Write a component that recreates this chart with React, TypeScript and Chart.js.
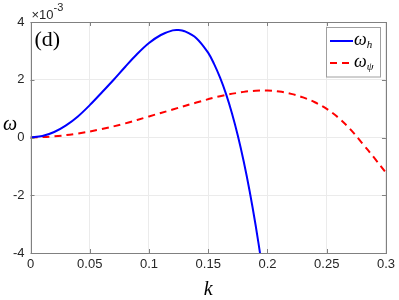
import React, { useEffect, useRef } from "react";
import { Chart, registerables } from "chart.js";

Chart.register(...registerables);

// data (omega in units of 1e-3)
const kBlue = [0, 0.01, 0.02, 0.03, 0.04, 0.05, 0.06, 0.07, 0.08, 0.09, 0.1, 0.11, 0.12, 0.125, 0.13, 0.14, 0.15, 0.155, 0.16, 0.165, 0.17, 0.175, 0.18, 0.185, 0.19, 0.195];
const wBlue = [0, 0.05, 0.19, 0.42, 0.73, 1.12, 1.55, 1.99, 2.45, 2.89, 3.27, 3.55, 3.71, 3.72, 3.68, 3.44, 2.93, 2.54, 2.07, 1.51, 0.84, 0.06, -0.84, -1.87, -3.04, -4.35];
const kRed = [0, 0.02, 0.04, 0.06, 0.08, 0.1, 0.12, 0.14, 0.16, 0.18, 0.19, 0.2, 0.21, 0.22, 0.23, 0.24, 0.25, 0.26, 0.27, 0.28, 0.29, 0.3];
const wRed = [0, 0.04, 0.14, 0.29, 0.49, 0.73, 0.97, 1.21, 1.43, 1.58, 1.62, 1.63, 1.59, 1.51, 1.39, 1.22, 0.99, 0.68, 0.28, -0.2, -0.7, -1.22];

const xTickValues = [0, 0.05, 0.1, 0.15, 0.2, 0.25, 0.3];
const xTickLabels = ["0", "0.05", "0.1", "0.15", "0.2", "0.25", "0.3"];
const yTickValues = [-4, -2, 0, 2, 4];
const yTickLabels = ["-4", "-2", "0", "2", "4"];

const TXT = "#262626";
const SANS = "'Liberation Sans', Arial, Helvetica, sans-serif";
const SERIF = "'Liberation Serif', 'Times New Roman', serif";

const overlay = {
  id: "overlay",
  afterDraw(chart: any) {
    const { ctx, chartArea: a, scales } = chart;
    const x = scales.x;
    const y = scales.y;
    ctx.save();
    // axes box
    ctx.strokeStyle = "#808080";
    ctx.lineWidth = 1;
    ctx.strokeRect(Math.round(a.left) + 0.5, Math.round(a.top) + 0.5, Math.round(a.right - a.left), Math.round(a.bottom - a.top));
    // inward ticks
    ctx.beginPath();
    xTickValues.forEach((v) => {
      const px = Math.round(x.getPixelForValue(v)) + 0.5;
      ctx.moveTo(px, a.bottom);
      ctx.lineTo(px, a.bottom - 4);
      ctx.moveTo(px, a.top);
      ctx.lineTo(px, a.top + 4);
    });
    yTickValues.forEach((v) => {
      const py = Math.round(y.getPixelForValue(v)) + 0.5;
      ctx.moveTo(a.left, py);
      ctx.lineTo(a.left + 4, py);
      ctx.moveTo(a.right, py);
      ctx.lineTo(a.right - 4, py);
    });
    ctx.stroke();

    // exponent label
    ctx.fillStyle = TXT;
    ctx.textBaseline = "alphabetic";
    ctx.textAlign = "left";
    ctx.font = `13px ${SANS}`;
    ctx.fillText("\u00d710", a.left + 1, 19);
    const w10 = ctx.measureText("\u00d710").width;
    ctx.font = `11px ${SANS}`;
    ctx.fillText("-3", a.left + 1 + w10, 11);

    // panel label
    ctx.fillStyle = "#000";
    ctx.font = `22px ${SERIF}`;
    ctx.fillText("(d)", a.left + 4, a.top + 24);

    // axis titles
    ctx.font = `italic 20px ${SERIF}`;
    ctx.textAlign = "center";
    ctx.fillText("k", (a.left + a.right) / 2, 295);
    ctx.fillText("\u03c9", 10, 130);

    // legend
    const lx = 326.5, ly = 27.5, lw = 54, lh = 49.5;
    ctx.fillStyle = "#fff";
    ctx.fillRect(lx, ly, lw, lh);
    ctx.strokeStyle = "#a0a0a0";
    ctx.strokeRect(lx, ly, lw, lh);
    ctx.lineWidth = 2;
    ctx.strokeStyle = "#0000ff";
    ctx.beginPath();
    ctx.moveTo(330, 41);
    ctx.lineTo(353, 41);
    ctx.stroke();
    ctx.strokeStyle = "#ff0000";
    ctx.setLineDash([7, 5]);
    ctx.beginPath();
    ctx.moveTo(330, 63);
    ctx.lineTo(353, 63);
    ctx.stroke();
    ctx.setLineDash([]);
    ctx.fillStyle = "#000";
    ctx.textAlign = "left";
    ctx.font = `italic 18px ${SERIF}`;
    ctx.fillText("\u03c9", 354, 45);
    ctx.fillText("\u03c9", 354, 67);
    const wo = ctx.measureText("\u03c9").width;
    ctx.font = `italic 11px ${SERIF}`;
    ctx.fillText("h", 354 + wo, 48);
    ctx.fillText("\u03c8", 354 + wo, 70);
    ctx.restore();
  },
};

export default function App() {
  const ref = useRef<HTMLCanvasElement | null>(null);
  useEffect(() => {
    if (!ref.current) return;
    const chart = new Chart(ref.current, {
      type: "line",
      data: {
        datasets: [
          {
            label: "omega_h",
            data: kBlue.map((k, i) => ({ x: k, y: wBlue[i] })),
            borderColor: "#0000ff",
            borderWidth: 2,
            pointRadius: 0,
            tension: 0.35,
          },
          {
            label: "omega_psi",
            data: kRed.map((k, i) => ({ x: k, y: wRed[i] })),
            borderColor: "#ff0000",
            borderWidth: 2,
            borderDash: [7, 5],
            pointRadius: 0,
            tension: 0.35,
          },
        ],
      },
      options: {
        responsive: false,
        animation: false,
        layout: { padding: { top: 22, right: 13, left: 0, bottom: 0 } },
        plugins: { legend: { display: false }, tooltip: { enabled: false } },
        scales: {
          x: {
            type: "linear",
            min: 0,
            max: 0.3,
            afterBuildTicks: (s: any) => {
              s.ticks = xTickValues.map((v) => ({ value: v }));
            },
            afterFit: (s: any) => {
              s.height = 47;
            },
            ticks: {
              callback: (_v: any, i: number) => xTickLabels[i],
              color: TXT,
              font: { family: SANS, size: 13 },
              padding: 4,
              maxRotation: 0,
            },
            grid: { color: "#ebebeb", drawTicks: false },
            border: { display: false },
          },
          y: {
            type: "linear",
            min: -4,
            max: 4,
            afterBuildTicks: (s: any) => {
              s.ticks = yTickValues.map((v) => ({ value: v }));
            },
            afterFit: (s: any) => {
              s.width = 30.5;
            },
            ticks: {
              callback: (_v: any, i: number) => yTickLabels[i],
              color: TXT,
              font: { family: SANS, size: 13 },
              padding: 6,
            },
            grid: { color: "#ebebeb", drawTicks: false },
            border: { display: false },
          },
        },
      },
      plugins: [overlay],
    });
    return () => chart.destroy();
  }, []);
  return (
    <div style={{ position: "fixed", left: 0, top: 0, width: 399, height: 300, background: "#fff" }}>
      <canvas ref={ref} width={399} height={300} />
    </div>
  );
}
